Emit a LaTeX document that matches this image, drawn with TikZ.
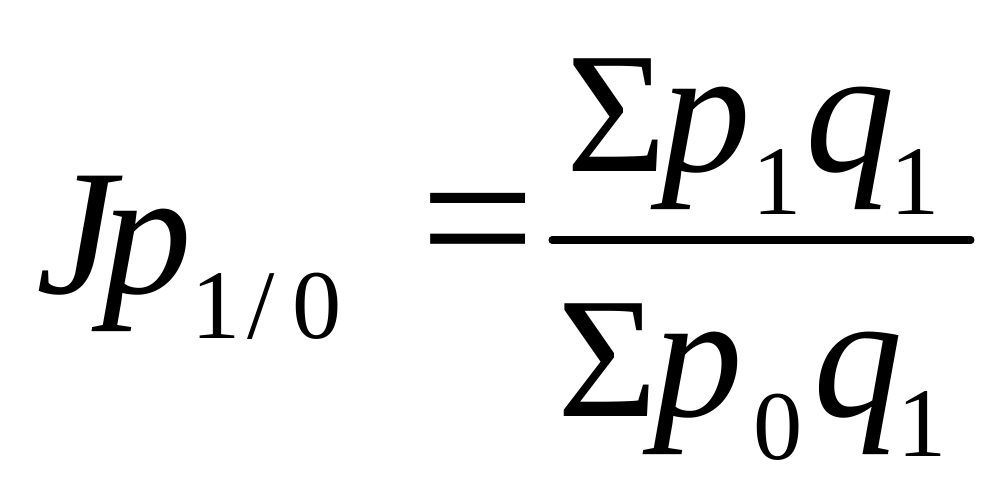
\documentclass[tikz,border=0pt]{standalone}
\usepackage{fontspec}
\setmainfont{Liberation Serif}
\tikzset{
    glyph/.style={inner sep=0pt,anchor=base},
    big/.style={glyph,font=\fontsize{49}{50}\selectfont},
    bigit/.style={glyph,font=\fontsize{51}{52}\selectfont\itshape},
    small/.style={glyph,font=\fontsize{28}{30}\selectfont}
}
\begin{document}
\begin{tikzpicture}
    \useasboundingbox (0,0) rectangle (10.07,4.97);
    % left side
    \node [bigit] (J) at (0.76,2.03) {J};
    \node [bigit] (p) at (1.47,2.03) {p};
    \node [small] (one) at (2.16,1.58) {1};
    \node [small] (slash) at (2.61,1.58) {/};
    \node [small] (zero) at (3.17,1.58) {0};
    \node [glyph,anchor=center,font=\fontsize{58}{60}\selectfont] (eq) at (4.78,2.57) {=};
    % fraction bar
    \coordinate (barl) at (5.52,2.57);
    \coordinate (barr) at (9.71,2.57);
    \draw [line width=2pt,line cap=round] (barl) -- (barr);
    % numerator
    \node [big] (sumn) at (6.17,3.25) {Σ};
    \node [bigit] (pn) at (7.06,3.25) {p};
    \node [small] (pnsub) at (7.77,2.82) {1};
    \node [bigit] (qn) at (8.50,3.25) {q};
    \node [small] (qnsub) at (9.15,2.82) {1};
    % denominator
    \node [big] (sumd) at (6.08,0.80) {Σ};
    \node [bigit] (pd) at (6.98,0.80) {p};
    \node [small] (pdsub) at (7.78,0.37) {0};
    \node [bigit] (qd) at (8.58,0.80) {q};
    \node [small] (qdsub) at (9.22,0.40) {1};
\end{tikzpicture}
\end{document}
